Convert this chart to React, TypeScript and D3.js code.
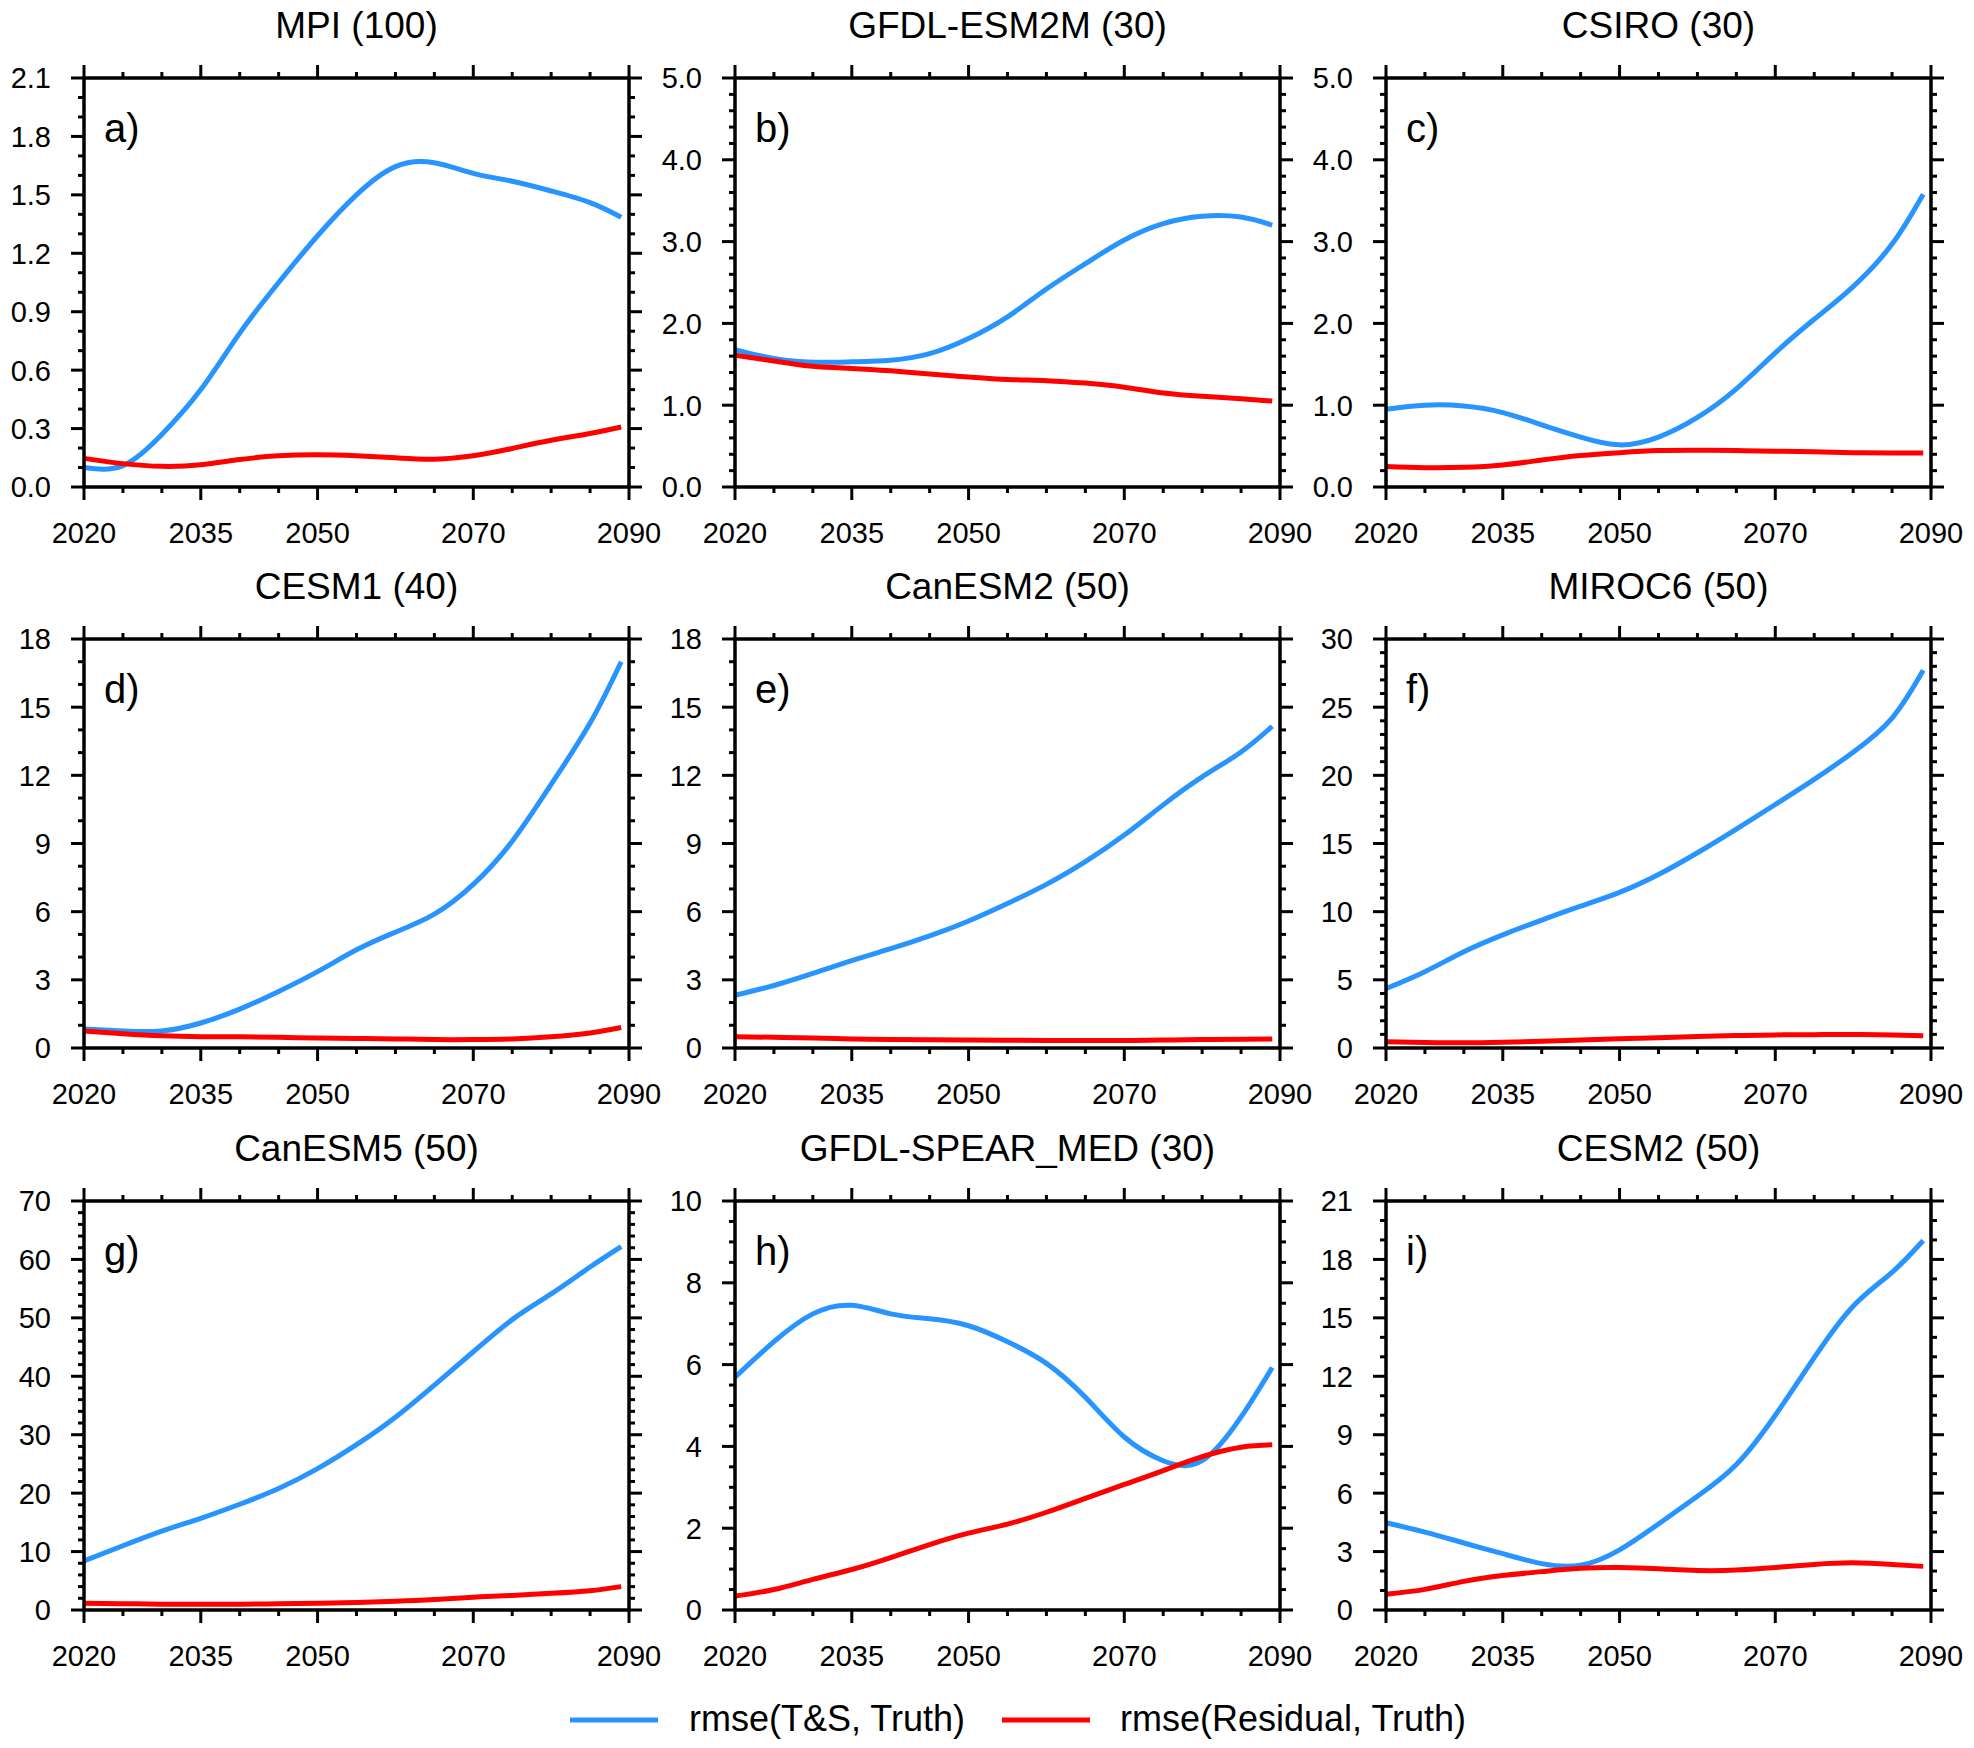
import React from "react";
import * as d3 from "d3";

const years = [2020, 2025, 2030, 2035, 2040, 2045, 2050, 2055, 2060, 2065, 2070, 2075, 2080, 2085, 2089];

const titles = ["MPI (100)", "GFDL-ESM2M (30)", "CSIRO (30)", "CESM1 (40)", "CanESM2 (50)", "MIROC6 (50)", "CanESM5 (50)", "GFDL-SPEAR_MED (30)", "CESM2 (50)"];
const letters = ["a)", "b)", "c)", "d)", "e)", "f)", "g)", "h)", "i)"];
const yMaxes = [2.1, 5, 5, 18, 18, 30, 70, 10, 21];
const yMajorSteps = [0.3, 1, 1, 3, 3, 5, 10, 2, 3];
const yMinorSteps = [0.1, 0.2, 0.2, 1, 1, 1, 2, 0.5, 1];
const yDecimals = [1, 1, 1, 0, 0, 0, 0, 0, 0];
const xMajorTicks = [2020, 2035, 2050, 2070, 2090];
const legendLabels = ["rmse(T&S, Truth)", "rmse(Residual, Truth)"];

const blueA = [0.1, 0.11, 0.27, 0.5, 0.79, 1.05, 1.29, 1.5, 1.645, 1.665, 1.61, 1.57, 1.52, 1.46, 1.385];
const redA = [0.147, 0.12, 0.106, 0.114, 0.141, 0.16, 0.165, 0.16, 0.15, 0.143, 0.16, 0.198, 0.24, 0.275, 0.308];
const blueB = [1.68, 1.57, 1.525, 1.53, 1.55, 1.63, 1.815, 2.08, 2.42, 2.73, 3.02, 3.22, 3.31, 3.3, 3.2];
const redB = [1.61, 1.54, 1.475, 1.45, 1.42, 1.38, 1.345, 1.315, 1.3, 1.27, 1.22, 1.15, 1.11, 1.08, 1.05];
const blueC = [0.95, 1.0, 0.99, 0.91, 0.76, 0.61, 0.515, 0.61, 0.85, 1.2, 1.64, 2.05, 2.45, 2.97, 3.58];
const redC = [0.25, 0.235, 0.24, 0.27, 0.33, 0.385, 0.42, 0.445, 0.45, 0.445, 0.437, 0.43, 0.42, 0.415, 0.415];
const blueD = [0.84, 0.75, 0.75, 1.1, 1.71, 2.49, 3.36, 4.32, 5.1, 5.89, 7.2, 9.1, 11.6, 14.3, 17.0];
const redD = [0.75, 0.63, 0.54, 0.5, 0.49, 0.47, 0.44, 0.42, 0.4, 0.37, 0.37, 0.4, 0.49, 0.66, 0.9];
const blueE = [2.32, 2.75, 3.28, 3.85, 4.37, 4.93, 5.59, 6.36, 7.2, 8.2, 9.37, 10.7, 11.93, 13.03, 14.16];
const redE = [0.5, 0.47, 0.44, 0.4, 0.37, 0.36, 0.35, 0.34, 0.33, 0.33, 0.33, 0.35, 0.37, 0.39, 0.4];
const blueF = [4.36, 5.6, 7.06, 8.3, 9.38, 10.4, 11.41, 12.72, 14.32, 16.06, 17.86, 19.7, 21.7, 24.2, 27.7];
const redF = [0.46, 0.41, 0.38, 0.42, 0.49, 0.58, 0.67, 0.76, 0.84, 0.91, 0.96, 0.98, 0.99, 0.96, 0.9];
const blueG = [8.4, 11.0, 13.5, 15.7, 18.1, 20.8, 24.2, 28.3, 33.0, 38.5, 44.2, 49.7, 54.1, 58.7, 62.2];
const redG = [1.15, 1.08, 1.0, 0.98, 1.0, 1.05, 1.15, 1.3, 1.5, 1.8, 2.2, 2.5, 2.85, 3.3, 4.0];
const blueH = [5.69, 6.56, 7.24, 7.45, 7.24, 7.12, 6.95, 6.56, 6.03, 5.2, 4.23, 3.65, 3.65, 4.72, 5.93];
const redH = [0.34, 0.5, 0.75, 0.99, 1.28, 1.6, 1.88, 2.1, 2.39, 2.73, 3.07, 3.41, 3.75, 3.98, 4.04];
const blueI = [4.48, 4.0, 3.44, 2.89, 2.38, 2.3, 3.09, 4.42, 5.84, 7.47, 10.0, 12.96, 15.6, 17.34, 18.97];
const redI = [0.81, 1.06, 1.47, 1.77, 1.97, 2.14, 2.18, 2.12, 2.03, 2.05, 2.18, 2.34, 2.42, 2.34, 2.24];

const blueSeries = [blueA, blueB, blueC, blueD, blueE, blueF, blueG, blueH, blueI];
const redSeries = [redA, redB, redC, redD, redE, redF, redG, redH, redI];

const W = 1974;
const H = 1748;
const colX = [84, 735, 1386];
const rowY = [78, 639, 1201];
const PW = 545;
const PH = 409;
const BLUE = "#2894ff";
const RED = "#ff0000";
const FONT = "'Liberation Sans', Arial, Helvetica, sans-serif";
const MAJ = 13;
const MIN = 6;

function rangeTicks(max: number, step: number): number[] {
  const n = Math.round(max / step);
  const out: number[] = [];
  for (let i = 0; i <= n; i++) out.push(+(i * step).toFixed(6));
  return out;
}

function Panel({ idx }: { idx: number }) {
  const px = colX[idx % 3];
  const py = rowY[Math.floor(idx / 3)];
  const x = d3.scaleLinear().domain([2020, 2090]).range([px, px + PW]);
  const y = d3.scaleLinear().domain([0, yMaxes[idx]]).range([py + PH, py]);
  const line = d3
    .line<[number, number]>()
    .x((d) => x(d[0]))
    .y((d) => y(d[1]))
    .curve(d3.curveNatural);
  const blue = years.map((yr, i) => [yr, blueSeries[idx][i]] as [number, number]);
  const red = years.map((yr, i) => [yr, redSeries[idx][i]] as [number, number]);

  const xMinor = d3.range(2020, 2091, 5).filter((v) => !xMajorTicks.includes(v));
  const yMaj = rangeTicks(yMaxes[idx], yMajorSteps[idx]);
  const yMinAll = rangeTicks(yMaxes[idx], yMinorSteps[idx]);
  const yMin = yMinAll.filter(
    (v) => !yMaj.some((m) => Math.abs(m - v) < 1e-6)
  );
  const fmt = (v: number) => v.toFixed(yDecimals[idx]);
  const top = py;
  const bot = py + PH;
  const left = px;
  const right = px + PW;

  return (
    <g>
      <text
        x={(left + right) / 2}
        y={top - 40}
        textAnchor="middle"
        fontSize={37}
        fontFamily={FONT}
      >
        {titles[idx]}
      </text>
      <path d={line(blue) || ""} fill="none" stroke={BLUE} strokeWidth={5} />
      <path d={line(red) || ""} fill="none" stroke={RED} strokeWidth={5} />
      <g stroke="#000" strokeWidth={3}>
        {xMajorTicks.map((v) => (
          <g key={"xm" + v}>
            <line x1={x(v)} x2={x(v)} y1={bot} y2={bot + MAJ} />
            <line x1={x(v)} x2={x(v)} y1={top} y2={top - MAJ} />
          </g>
        ))}
        {xMinor.map((v) => (
          <g key={"xn" + v}>
            <line x1={x(v)} x2={x(v)} y1={bot} y2={bot + MIN} />
            <line x1={x(v)} x2={x(v)} y1={top} y2={top - MIN} />
          </g>
        ))}
        {yMaj.map((v) => (
          <g key={"ym" + v}>
            <line x1={left} x2={left - MAJ} y1={y(v)} y2={y(v)} />
            <line x1={right} x2={right + MAJ} y1={y(v)} y2={y(v)} />
          </g>
        ))}
        {yMin.map((v) => (
          <g key={"yn" + v}>
            <line x1={left} x2={left - MIN} y1={y(v)} y2={y(v)} />
            <line x1={right} x2={right + MIN} y1={y(v)} y2={y(v)} />
          </g>
        ))}
      </g>
      <rect
        x={left}
        y={top}
        width={PW}
        height={PH}
        fill="none"
        stroke="#000"
        strokeWidth={3.5}
      />
      {xMajorTicks.map((v) => (
        <text
          key={"xl" + v}
          x={x(v)}
          y={bot + 56}
          textAnchor="middle"
          fontSize={29}
          fontFamily={FONT}
        >
          {v}
        </text>
      ))}
      {yMaj.map((v) => (
        <text
          key={"yl" + v}
          x={left - 33}
          y={y(v)}
          dy="0.36em"
          textAnchor="end"
          fontSize={29}
          fontFamily={FONT}
        >
          {fmt(v)}
        </text>
      ))}
      <text x={left + 20} y={top + 64} fontSize={40} fontFamily={FONT}>
        {letters[idx]}
      </text>
    </g>
  );
}

export default function App() {
  return (
    <svg
      width={W}
      height={H}
      style={{ position: "absolute", left: 0, top: 0, background: "#fff" }}
    >
      <rect x={0} y={0} width={W} height={H} fill="#fff" />
      {titles.map((_, i) => (
        <Panel key={i} idx={i} />
      ))}
      <g>
        <line x1={570} x2={658} y1={1720} y2={1720} stroke={BLUE} strokeWidth={5} />
        <text x={689} y={1731} fontSize={36} fontFamily={FONT}>
          {legendLabels[0]}
        </text>
        <line x1={1002} x2={1090} y1={1720} y2={1720} stroke={RED} strokeWidth={5} />
        <text x={1120} y={1731} fontSize={36} fontFamily={FONT}>
          {legendLabels[1]}
        </text>
      </g>
    </svg>
  );
}
